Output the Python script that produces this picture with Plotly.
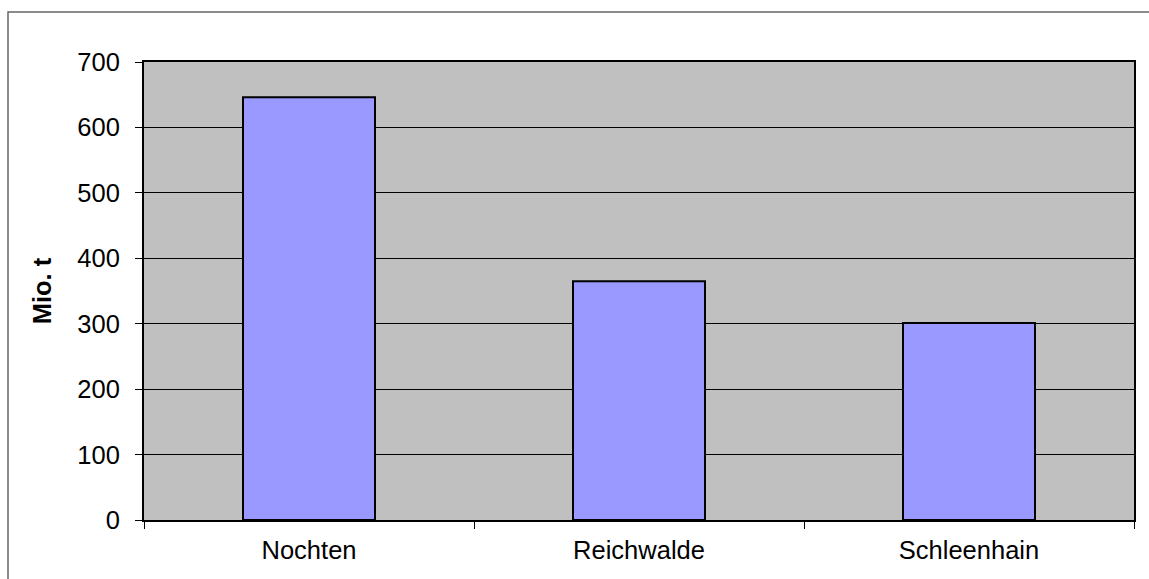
import plotly.graph_objects as go

# Lagerstätten und Vorräte (Mio. t)
categories = ["Nochten", "Reichwalde", "Schleenhain"]
reserves = [646, 365, 301]
y_ticks = [0, 100, 200, 300, 400, 500, 600, 700]

W, H = 1149, 579
L, R, T, B = 144, 15, 62, 59
pw, ph = W - L - R, H - T - B


def px_x(x):
    return (x - L) / pw


def px_y(y):
    return (H - B - y) / ph


fig = go.Figure(
    go.Bar(
        x=categories,
        y=reserves,
        width=0.4,
        marker=dict(color="#9999FF", line=dict(color="black", width=2)),
        hoverinfo="x+y",
    )
)

font = dict(family="Liberation Sans, Arial, sans-serif", size=25.5, color="black")

fig.update_layout(
    width=W,
    height=H,
    margin=dict(l=L, r=R, t=T, b=B),
    paper_bgcolor="white",
    plot_bgcolor="#C0C0C0",
    showlegend=False,
    font=font,
    xaxis=dict(
        type="category",
        tickson="boundaries",
        ticks="outside",
        ticklen=7,
        tickcolor="black",
        ticklabelstandoff=6,
        showgrid=False,
        showline=True,
        linecolor="black",
        linewidth=2,
        mirror=True,
        tickfont=font,
        range=[-0.5, 2.5],
    ),
    yaxis=dict(
        range=[0, 700],
        tickvals=y_ticks,
        ticks="outside",
        ticklen=7,
        tickcolor="black",
        ticklabelstandoff=10,
        showgrid=True,
        gridcolor="black",
        gridwidth=1,
        showline=True,
        linecolor="black",
        linewidth=2,
        mirror=True,
        zeroline=False,
        tickfont=font,
        title=dict(text="<b>Mio. t</b>", font=font, standoff=18),
    ),
    shapes=[
        dict(
            type="rect",
            xref="paper",
            yref="paper",
            x0=px_x(8),
            x1=px_x(1152),
            y0=px_y(585),
            y1=px_y(12),
            line=dict(color="#666666", width=1.5),
            fillcolor="rgba(0,0,0,0)",
            layer="below",
        )
    ],
)

fig.write_html("out.html")
